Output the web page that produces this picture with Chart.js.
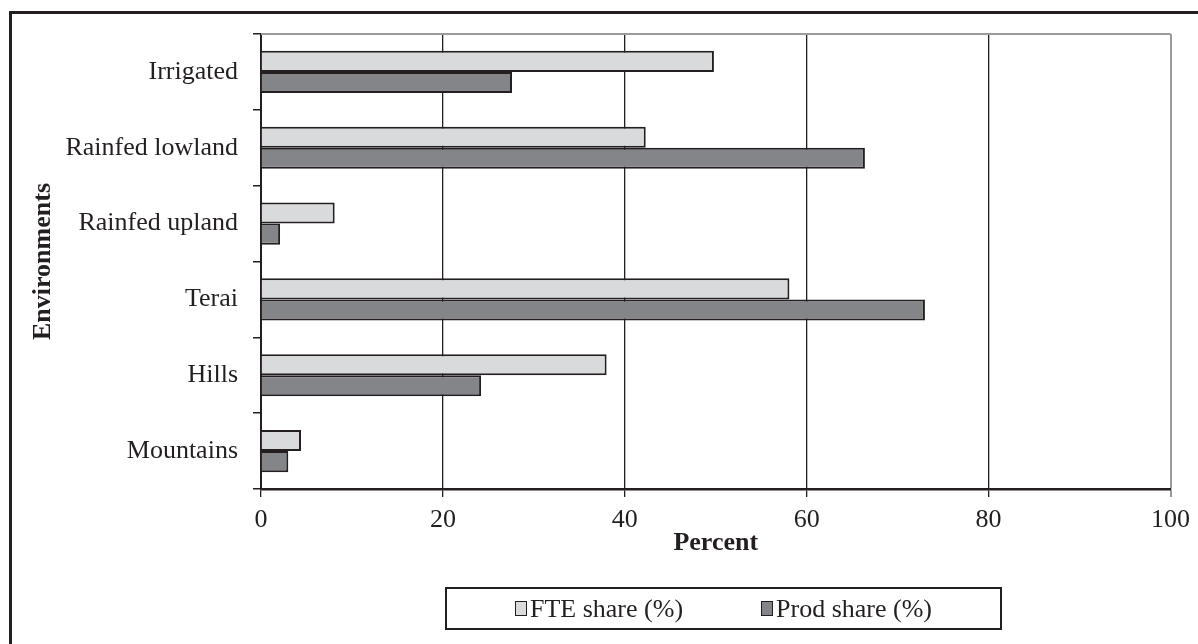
<!DOCTYPE html>
<html>
<head>
<meta charset="utf-8">
<script src="https://cdn.jsdelivr.net/npm/chart.js"></script>
<style>
    html, body { margin: 0; padding: 0; background: #fff; }
    #wrap { position: relative; width: 1198px; height: 644px; overflow: hidden; }
    #frame { position: absolute; left: 9px; top: 11px; width: 1300px; height: 800px;
        border-left: 3px solid #231f20; border-top: 3px solid #231f20; }
    #envChart { position: absolute; left: 0; top: 0; }
    #legend { position: absolute; left: 445px; top: 587px; width: 553px; height: 39px;
        border: 2px solid #231f20; display: flex; justify-content: center; align-items: center;
        font-family: 'Liberation Serif', 'Times New Roman', serif; font-size: 26px; color: #231f20; }
    .item { display: flex; align-items: center; margin: 0 39px; }
    .swatch { display: inline-block; width: 10px; height: 13px; border: 1.5px solid #231f20; margin-right: 3px; }
</style>
</head>
<body>
<div id="wrap">
    <div id="frame"></div>
    <canvas id="envChart" width="1198" height="644"></canvas>
    <div id="legend"></div>
</div>
<script>
const environments = ['Irrigated', 'Rainfed lowland', 'Rainfed upland', 'Terai', 'Hills', 'Mountains'];
const fteShare = [49.8, 42.3, 8.1, 58.1, 38.0, 4.4];
const prodShare = [27.6, 66.4, 2.1, 73.0, 24.2, 3.0];
const percentTicks = [0, 20, 40, 60, 80, 100];

const ink = '#231f20';
const serif = "'Liberation Serif', 'Times New Roman', serif";

// gray line along the top of the plot area
const topLine = {
    id: 'topLine',
    afterDraw(chart) {
        const { ctx, chartArea } = chart;
        ctx.save();
        ctx.strokeStyle = '#9a9a9a';
        ctx.lineWidth = 2;
        ctx.beginPath();
        ctx.moveTo(chartArea.left, chartArea.top);
        ctx.lineTo(chartArea.right, chartArea.top);
        ctx.stroke();
        ctx.restore();
    }
};

const chart = new Chart(document.getElementById('envChart').getContext('2d'), {
    type: 'bar',
    data: {
        labels: environments,
        datasets: [
            {
                label: 'FTE share (%)',
                data: fteShare,
                backgroundColor: '#d9dadc',
                borderColor: ink,
                borderWidth: 2
            },
            {
                label: 'Prod share (%)',
                data: prodShare,
                backgroundColor: '#848589',
                borderColor: ink,
                borderWidth: 2
            }
        ]
    },
    options: {
        indexAxis: 'y',
        responsive: false,
        animation: false,
        devicePixelRatio: 1,
        datasets: {
            bar: { categoryPercentage: 0.555, barPercentage: 1.0 }
        },
        layout: { padding: { left: 0, top: 34, right: 23, bottom: 85 } },
        plugins: {
            legend: { display: false },
            tooltip: { enabled: false }
        },
        scales: {
            x: {
                min: 0,
                max: 100,
                afterBuildTicks: (scale) => { scale.ticks = percentTicks.map(v => ({ value: v })); },
                afterFit: (scale) => { scale.height = 70; },
                ticks: { font: { family: serif, size: 26 }, color: ink, padding: 8 },
                grid: {
                    color: (c) => (c.tick && c.tick.value === 100 ? '#9a9a9a' : ink),
                    lineWidth: (c) => (c.tick && c.tick.value === 100 ? 2 : 1.3),
                    tickLength: 8
                },
                border: { display: true, color: ink, width: 2.5 },
                title: {
                    display: true,
                    text: 'Percent',
                    font: { family: serif, size: 26, weight: 'bold' },
                    color: ink,
                    padding: 0
                }
            },
            y: {
                offset: true,
                afterFit: (scale) => { scale.width = 261; },
                ticks: { font: { family: serif, size: 26 }, color: ink, padding: 15 },
                grid: { offset: true, drawOnChartArea: false, tickLength: 8, color: ink, lineWidth: 1.5 },
                border: { display: true, color: ink, width: 2 },
                title: {
                    display: true,
                    text: 'Environments',
                    font: { family: serif, size: 26, weight: 'bold' },
                    color: ink,
                    padding: { top: 28 }
                }
            }
        }
    },
    plugins: [topLine]
});

// legend in a framed box, built from the datasets
const legendEl = document.getElementById('legend');
chart.data.datasets.forEach(ds => {
    const item = document.createElement('span');
    item.className = 'item';
    const sw = document.createElement('span');
    sw.className = 'swatch';
    sw.style.background = ds.backgroundColor;
    item.appendChild(sw);
    item.appendChild(document.createTextNode(ds.label));
    legendEl.appendChild(item);
});
</script>
</body>
</html>
